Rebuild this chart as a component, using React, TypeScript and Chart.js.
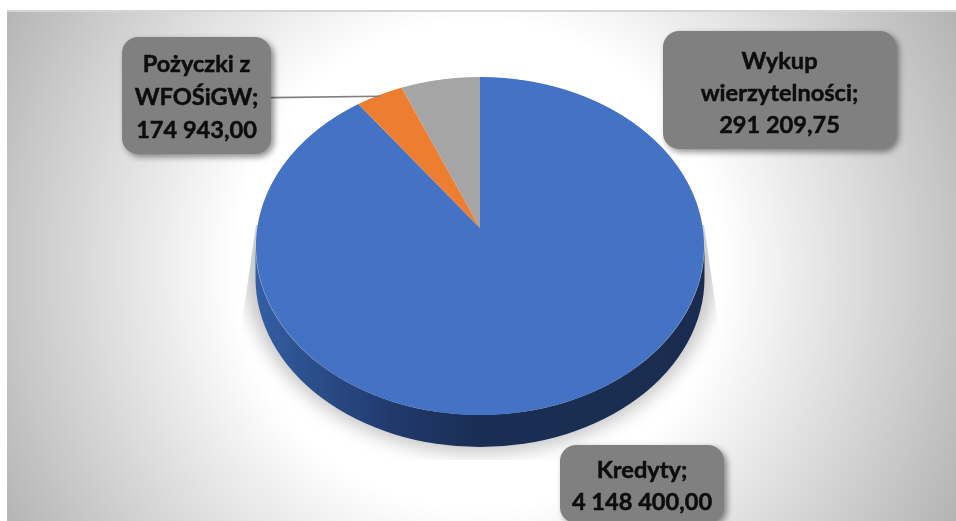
import React, { useEffect, useRef } from "react";
import { Chart, registerables } from "chart.js";

Chart.register(...registerables);

const categories = ["Kredyty", "Pożyczki z WFOŚiGW", "Wykup wierzytelności"];
const values = [4148400.0, 174943.0, 291209.75];
const sliceColors = ["#4472C4", "#ED7D31", "#A5A5A5"];
const labelLines = [["Kredyty;"], ["Pożyczki z", "WFOŚiGW;"], ["Wykup", "wierzytelności;"]];
const valueLabels = ["4 148 400,00", "174 943,00", "291 209,75"];
const labelBoxes = [
  { x: 560, y: 445, w: 164, h: 78, first: 470, step: 32 },
  { x: 122, y: 37, w: 149, h: 117, first: 64, step: 33 },
  { x: 663, y: 31, w: 233, h: 118, first: 61, step: 32 },
];

const W = 956;
const H = 521;
const FONT = "bold 23.6px Lato, 'Open Sans', sans-serif";

// perspective of the pie's top face
const CX = 480;
const TOP = 77;
const APEX = 228;
const BOTTOM = 415;
const HALF_WIDTH = 224;
const DEPTH = 32;
const persp = (() => {
  // y = (a v + b) / (c v + 1), y(0)=APEX, y(1)=BOTTOM, y(-1)=TOP
  const b = APEX;
  const c = (2 * b - BOTTOM - TOP) / (BOTTOM - TOP);
  const a = BOTTOM * (1 + c) - b;
  return { a, b, c };
})();

const pseudo3d = {
  id: "pseudo3d",
  beforeDraw(chart: any) {
    const ctx = chart.ctx as CanvasRenderingContext2D;
    ctx.save();
    ctx.fillStyle = "#ffffff";
    ctx.fillRect(0, 0, W, H);
    const bx = 7, by = 12;
    ctx.save();
    ctx.beginPath();
    ctx.rect(bx, by, W - bx, H - by);
    ctx.clip();
    // radial backdrop
    const g = ctx.createRadialGradient(478, 265, 0, 478, 265, 540);
    g.addColorStop(0, "#ffffff");
    g.addColorStop(0.45, "#ffffff");
    g.addColorStop(1, "#b4b4b4");
    ctx.fillStyle = g;
    ctx.fillRect(0, 0, W, H);
    ctx.restore();
    ctx.fillStyle = "#d4d4d4";
    ctx.fillRect(bx, 10, W - bx, 2);

    // soft shadow below the pie
    ctx.save();
    ctx.beginPath();
    ctx.moveTo(256, 225);
    ctx.lineTo(238, 350);
    ctx.lineTo(225, 360);
    ctx.lineTo(225, 460);
    ctx.lineTo(735, 460);
    ctx.lineTo(735, 360);
    ctx.lineTo(722, 350);
    ctx.lineTo(704, 225);
    ctx.closePath();
    ctx.clip();
    (ctx as any).filter = "blur(9px)";
    ctx.fillStyle = "#c4c4c4";
    ctx.beginPath();
    ctx.ellipse(CX, 266, 236, 187, 0, 0, Math.PI * 2);
    ctx.fill();
    ctx.restore();

    // side wall
    const side = ctx.createLinearGradient(256, 0, 704, 0);
    side.addColorStop(0, "#335fa6");
    side.addColorStop(0.1, "#2d518f");
    side.addColorStop(0.32, "#20386a");
    side.addColorStop(0.5, "#1a2e54");
    side.addColorStop(1, "#1a2d50");
    ctx.fillStyle = side;
    ctx.beginPath();
    ctx.ellipse(CX, 246 + DEPTH, HALF_WIDTH + 0.5, 169, 0, 0, Math.PI);
    ctx.ellipse(CX, 246, HALF_WIDTH + 0.5, 169, 0, Math.PI, 0, true);
    ctx.closePath();
    ctx.fill();
    ctx.restore();
  },
  beforeDatasetDraw(chart: any, args: any) {
    const ctx = chart.ctx as CanvasRenderingContext2D;
    const arcs = args.meta.data;
    const cx0 = arcs[0].x;
    const cy0 = arcs[0].y;
    const R = arcs[0].outerRadius;
    const { a, b, c } = persp;
    // K so that the widest point of the projected circle is HALF_WIDTH
    const K = HALF_WIDTH * Math.sqrt(1 - c * c);
    ctx.save();
    for (let y = TOP - 1; y <= BOTTOM + 1; y++) {
      const yt = y + 0.5;
      const v = (yt - b) / (a - c * yt);
      const d = 1 + c * v;
      const k = K / d;
      const s = (a - b * c) / (d * d);
      ctx.save();
      ctx.setTransform(1, 0, 0, 1, 0, 0);
      ctx.beginPath();
      ctx.rect(0, y, W, 1);
      ctx.clip();
      ctx.setTransform(k / R, 0, 0, s / R, CX - (k / R) * cx0, yt - (s / R) * (cy0 + v * R));
      arcs.forEach((el: any) => el.draw(ctx));
      ctx.restore();
    }
    ctx.restore();
    return false;
  },
  afterDatasetsDraw(chart: any) {
    const ctx = chart.ctx as CanvasRenderingContext2D;
    ctx.save();
    // leader line for the small slice
    ctx.strokeStyle = "#7f7f7f";
    ctx.lineWidth = 1.6;
    ctx.beginPath();
    ctx.moveTo(271, 97.6);
    ctx.lineTo(380, 96.2);
    ctx.stroke();

    categories.forEach((_, i) => {
      const b = labelBoxes[i];
      ctx.save();
      ctx.shadowColor = "rgba(0,0,0,0.45)";
      ctx.shadowBlur = 6;
      ctx.shadowOffsetX = 3;
      ctx.shadowOffsetY = 3;
      ctx.fillStyle = "#808080";
      ctx.beginPath();
      ctx.roundRect(b.x, b.y, b.w, b.h, 16);
      ctx.fill();
      ctx.restore();
      ctx.fillStyle = "#0d0d0d";
      ctx.strokeStyle = "#0d0d0d";
      ctx.lineWidth = 0.5;
      ctx.font = FONT;
      ctx.textAlign = "center";
      ctx.textBaseline = "middle";
      [...labelLines[i], valueLabels[i]].forEach((line, j) => {
        ctx.fillText(line, b.x + b.w / 2, b.first + j * b.step);
        ctx.strokeText(line, b.x + b.w / 2, b.first + j * b.step);
      });
    });
    ctx.restore();
  },
};

export default function App() {
  const ref = useRef<HTMLCanvasElement>(null);
  useEffect(() => {
    document.body.style.margin = "0";
    const chart = new Chart(ref.current!, {
      type: "pie",
      data: {
        labels: categories,
        datasets: [{ data: values, backgroundColor: sliceColors, borderWidth: 0 }],
      },
      options: {
        responsive: false,
        animation: false,
        plugins: { legend: { display: false }, tooltip: { enabled: false } },
      },
      plugins: [pseudo3d],
    } as any);
    return () => chart.destroy();
  }, []);
  return (
    <div style={{ position: "absolute", left: 0, top: 0, width: W, height: H }}>
      <canvas ref={ref} width={W} height={H} style={{ display: "block" }} />
    </div>
  );
}
